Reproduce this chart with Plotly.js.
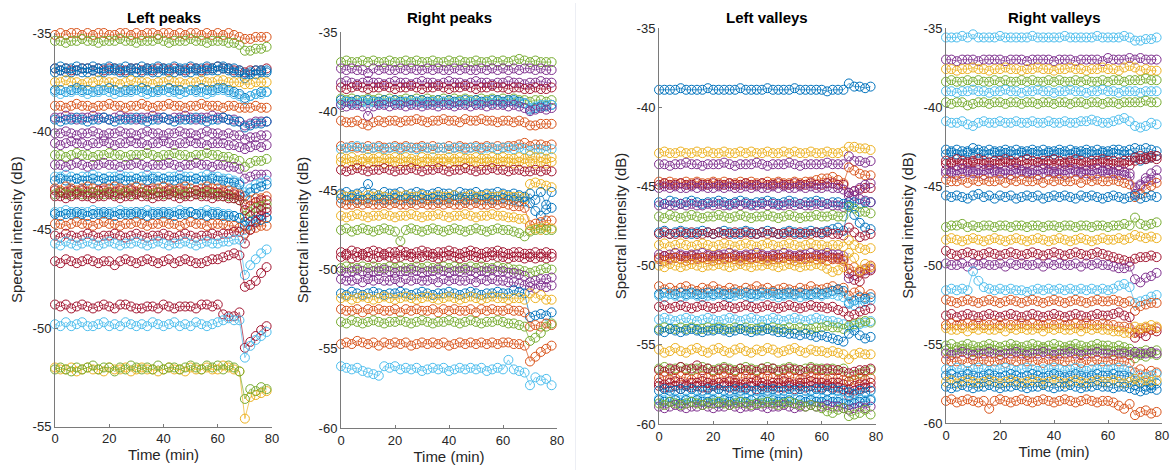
<!DOCTYPE html>
<html><head><meta charset="utf-8">
<script src="https://cdn.plot.ly/plotly-3.0.1.min.js"></script>
<style>html,body{margin:0;padding:0;background:#fff}#chart{width:1172px;height:470px}</style>
</head><body><div id="chart"></div>
<script>
// ---------- data ----------
const time = [0,2,4,6,8,10,12,14,16,18,20,22,24,26,28,30,32,34,36,38,40,42,44,46,48,50,52,54,56,58,60,62,64,66,68,70,72,74,76,78];
const panelTitles = ['Left peaks','Right peaks','Left valleys','Right valleys'];
const xTickVals = [0,20,40,60,80];
const yTickValsPeaksLeft = [-55,-50,-45,-40,-35];
const yTickValsOther = [-60,-55,-50,-45,-40,-35];

// Left peaks
const LP_O1=[-35.1,-35,-35.1,-35,-35,-35.1,-35,-35.1,-35,-35,-35.1,-35.1,-35,-35,-35.1,-35,-35.1,-35,-35,-35.1,-35,-35,-35.1,-35,-35.1,-35,-35,-35.1,-35,-35.1,-35,-35.1,-35,-35.1,-35.2,-35.3,-35.3,-35.2,-35.2,-35.2];
const LP_G1=[-35.4,-35.4,-35.5,-35.4,-35.4,-35.3,-35.4,-35.4,-35.5,-35.4,-35.4,-35.4,-35.3,-35.4,-35.4,-35.5,-35.4,-35.4,-35.4,-35.3,-35.4,-35.5,-35.4,-35.4,-35.4,-35.3,-35.4,-35.4,-35.5,-35.4,-35.4,-35.4,-35.5,-35.5,-35.6,-35.9,-35.9,-35.8,-35.8,-35.7];
const LP_R1=[-36.8,-36.9,-36.8,-36.9,-36.9,-36.8,-36.8,-36.9,-36.8,-36.9,-36.8,-36.8,-36.9,-36.9,-36.8,-36.8,-36.9,-36.8,-36.9,-36.8,-36.8,-36.9,-36.8,-36.9,-36.9,-36.8,-36.8,-36.9,-36.8,-36.8,-36.7,-36.8,-36.8,-36.9,-36.9,-37,-36.9,-36.9,-36.9,-36.8];
const LP_B1=[-37,-36.9,-37,-37,-36.9,-37,-37,-36.9,-37,-37,-36.9,-36.9,-37,-37,-36.9,-37,-37,-36.9,-37,-37,-36.9,-37,-37,-36.9,-37,-37,-36.9,-37,-36.9,-36.9,-36.9,-36.8,-36.9,-37,-37,-37.3,-37.1,-37.1,-37,-37];
const LP_B2=[-36.8,-36.7,-36.8,-36.8,-36.7,-36.8,-36.8,-36.7,-36.8,-36.8,-36.7,-36.8,-36.8,-36.7,-36.8,-36.8,-36.7,-36.8,-36.8,-36.7,-36.8,-36.8,-36.7,-36.8,-36.8,-36.7,-36.8,-36.8,-36.7,-36.8,-36.7,-36.7,-36.8,-36.8,-36.9,-37.1,-37,-36.9,-36.9,-36.9];
const LP_Y1=[-37.5,-37.5,-37.4,-37.5,-37.5,-37.6,-37.5,-37.5,-37.4,-37.5,-37.5,-37.5,-37.6,-37.5,-37.4,-37.5,-37.5,-37.5,-37.6,-37.5,-37.5,-37.4,-37.5,-37.5,-37.6,-37.5,-37.5,-37.4,-37.5,-37.5,-37.4,-37.4,-37.5,-37.5,-37.5,-37.6,-37.6,-37.5,-37.5,-37.5];
const LP_B3=[-37.9,-37.9,-38,-37.9,-37.8,-37.9,-37.9,-38,-37.9,-37.9,-37.8,-37.9,-38,-37.9,-37.9,-37.9,-37.8,-37.9,-38,-37.9,-37.9,-37.8,-37.9,-37.9,-38,-37.9,-37.9,-37.8,-37.9,-37.9,-37.8,-37.8,-37.9,-38,-38.1,-38.3,-38.2,-38.1,-38,-38];
const LP_C1=[-38,-38.1,-38,-38,-37.9,-38,-38.1,-38,-38,-37.9,-38,-38.1,-38,-38,-38,-37.9,-38,-38.1,-38,-38,-37.9,-38,-38,-38.1,-38,-37.9,-38,-38,-38.1,-38,-37.9,-37.9,-38,-38.1,-38.2,-38.4,-38.2,-38.1,-38.1,-38];
const LP_O2=[-38.7,-38.7,-38.8,-38.7,-38.6,-38.7,-38.7,-38.8,-38.7,-38.7,-38.6,-38.7,-38.7,-38.8,-38.7,-38.7,-38.6,-38.7,-38.8,-38.7,-38.7,-38.6,-38.7,-38.7,-38.8,-38.7,-38.7,-38.6,-38.7,-38.7,-38.7,-38.8,-38.7,-38.7,-38.8,-38.8,-38.8,-38.7,-38.8,-38.8];
const LP_P1=[-39.3,-39.3,-39.2,-39.3,-39.4,-39.3,-39.3,-39.2,-39.3,-39.3,-39.4,-39.3,-39.2,-39.3,-39.3,-39.4,-39.3,-39.3,-39.2,-39.3,-39.3,-39.4,-39.3,-39.3,-39.2,-39.3,-39.4,-39.3,-39.3,-39.2,-39.3,-39.3,-39.4,-39.4,-39.5,-39.7,-39.6,-39.5,-39.5,-39.5];
const LP_B4=[-39.4,-39.5,-39.4,-39.4,-39.3,-39.4,-39.5,-39.4,-39.4,-39.3,-39.4,-39.5,-39.4,-39.4,-39.4,-39.3,-39.4,-39.5,-39.4,-39.4,-39.3,-39.4,-39.5,-39.4,-39.4,-39.4,-39.3,-39.4,-39.5,-39.4,-39.4,-39.3,-39.4,-39.5,-39.5,-39.8,-39.7,-39.6,-39.6,-39.5];
const LP_P2=[-40.1,-40.1,-40,-40.1,-40.2,-40.1,-40.1,-40,-40.1,-40.2,-40.1,-40.1,-40,-40.1,-40.1,-40.2,-40.1,-40,-40.1,-40.1,-40.2,-40.1,-40.1,-40,-40.1,-40.1,-40.2,-40.1,-40,-40.1,-40.1,-40.2,-40.1,-40.2,-40.2,-40.4,-40.3,-40.3,-40.2,-40.2];
const LP_P3=[-40.6,-40.7,-40.6,-40.5,-40.6,-40.6,-40.7,-40.6,-40.6,-40.5,-40.6,-40.7,-40.6,-40.6,-40.5,-40.6,-40.6,-40.7,-40.6,-40.6,-40.5,-40.6,-40.7,-40.6,-40.6,-40.5,-40.6,-40.6,-40.7,-40.6,-40.6,-40.6,-40.7,-40.7,-40.8,-40.9,-40.8,-40.7,-40.8,-40.7];
const LP_G2=[-41.2,-41.2,-41.3,-41.2,-41.1,-41.2,-41.2,-41.3,-41.2,-41.2,-41.1,-41.2,-41.2,-41.3,-41.2,-41.2,-41.2,-41.1,-41.2,-41.3,-41.2,-41.2,-41.1,-41.2,-41.2,-41.3,-41.2,-41.2,-41.1,-41.2,-41.2,-41.3,-41.3,-41.4,-41.5,-41.8,-41.6,-41.5,-41.5,-41.4];
const LP_P4=[-41.7,-41.7,-41.8,-41.7,-41.6,-41.7,-41.8,-41.7,-41.7,-41.6,-41.7,-41.7,-41.8,-41.7,-41.7,-41.6,-41.7,-41.8,-41.7,-41.7,-41.7,-41.6,-41.7,-41.8,-41.7,-41.7,-41.6,-41.7,-41.7,-41.8,-41.7,-41.7,-41.8,-41.8,-41.9,-42.4,-42.3,-42.2,-42.2,-42.2];
const LP_C2=[-42.3,-42.3,-42.2,-42.3,-42.4,-42.3,-42.3,-42.2,-42.3,-42.4,-42.3,-42.3,-42.2,-42.3,-42.3,-42.4,-42.3,-42.2,-42.3,-42.3,-42.4,-42.3,-42.3,-42.2,-42.3,-42.3,-42.4,-42.3,-42.2,-42.3,-42.3,-42.4,-42.4,-42.5,-42.6,-43.1,-42.9,-42.7,-42.6,-42.5];
const LP_B5=[-42.5,-42.4,-42.5,-42.5,-42.4,-42.5,-42.5,-42.4,-42.5,-42.4,-42.5,-42.5,-42.4,-42.5,-42.5,-42.4,-42.5,-42.5,-42.4,-42.5,-42.4,-42.5,-42.5,-42.4,-42.5,-42.5,-42.4,-42.5,-42.5,-42.4,-42.5,-42.5,-42.6,-42.6,-42.7,-43.3,-43.1,-42.9,-42.8,-42.7];
const LP_O3=[-42.9,-43,-42.8,-42.9,-43,-42.9,-42.8,-42.9,-43,-42.9,-42.9,-42.8,-42.9,-43,-42.9,-42.8,-42.9,-43,-42.9,-42.9,-42.8,-42.9,-43,-42.9,-42.8,-42.9,-43,-42.9,-42.8,-42.9,-42.9,-43,-43,-43.1,-43.2,-43.7,-43.5,-43.4,-43.4,-43.3];
const LP_R2=[-43,-43.1,-43.1,-43,-43.1,-43,-43.1,-43.1,-43,-43,-43.1,-43.1,-43,-43.1,-43,-43.1,-43.1,-43,-43,-43.1,-43.1,-43,-43.1,-43,-43.1,-43.1,-43,-43.1,-43,-43.1,-43.1,-43.1,-43.2,-43.2,-43.3,-44,-43.8,-43.6,-43.5,-43.5];
const LP_G3=[-43.2,-43.1,-43.2,-43.2,-43.1,-43.2,-43.2,-43.1,-43.2,-43.2,-43.1,-43.2,-43.2,-43.1,-43.2,-43.2,-43.1,-43.2,-43.2,-43.1,-43.2,-43.2,-43.1,-43.2,-43.2,-43.1,-43.2,-43.2,-43.1,-43.2,-43.2,-43.3,-43.3,-43.4,-43.5,-44.3,-44.1,-43.9,-43.8,-43.7];
const LP_R3=[-43.3,-43.3,-43.4,-43.3,-43.2,-43.3,-43.3,-43.4,-43.3,-43.3,-43.2,-43.3,-43.4,-43.3,-43.3,-43.2,-43.3,-43.3,-43.4,-43.3,-43.3,-43.2,-43.3,-43.4,-43.3,-43.3,-43.2,-43.3,-43.3,-43.4,-43.3,-43.3,-43.4,-43.4,-43.5,-44.6,-44.3,-44.1,-44,-43.9];
const LP_C3=[-44.1,-44.1,-44,-44.1,-44.2,-44.1,-44.1,-44,-44.1,-44.2,-44.1,-44.1,-44,-44.1,-44.1,-44.2,-44.1,-44,-44.1,-44.1,-44.2,-44.1,-44.1,-44,-44.1,-44.1,-44.2,-44.1,-44,-44.1,-44.1,-44.2,-44.2,-44.3,-44.4,-45,-44.8,-44.6,-44.5,-44.4];
const LP_B6=[-44.2,-44.3,-44.2,-44.2,-44.1,-44.2,-44.3,-44.2,-44.2,-44.1,-44.2,-44.3,-44.2,-44.2,-44.2,-44.1,-44.2,-44.3,-44.2,-44.2,-44.1,-44.2,-44.3,-44.2,-44.2,-44.1,-44.2,-44.2,-44.3,-44.2,-44.2,-44.3,-44.3,-44.3,-44.4,-44.8,-44.6,-44.5,-44.5,-44.4];
const LP_O4=[-44.7,-44.7,-44.8,-44.7,-44.6,-44.7,-44.7,-44.8,-44.7,-44.6,-44.7,-44.7,-44.8,-44.7,-44.7,-44.6,-44.7,-44.8,-44.7,-44.7,-44.6,-44.7,-44.7,-44.8,-44.7,-44.6,-44.7,-44.7,-44.8,-44.7,-44.7,-44.7,-44.8,-44.8,-44.9,-45.2,-45,-44.9,-44.8,-44.8];
const LP_R4=[-45.3,-45.4,-45.2,-45.3,-45.4,-45.3,-45.2,-45.3,-45.4,-45.3,-45.3,-45.2,-45.3,-45.4,-45.3,-45.2,-45.3,-45.4,-45.3,-45.3,-45.2,-45.3,-45.4,-45.3,-45.2,-45.3,-45.4,-45.3,-45.3,-45.2,-45.3,-45.2,-45.2,-45.1,-45.1,-45.7,-45,-44.6,-44.3,-44.1];
const LP_C4=[-45.7,-45.8,-45.6,-45.7,-45.8,-45.7,-45.6,-45.7,-45.8,-45.7,-45.6,-45.7,-45.8,-45.7,-45.7,-45.6,-45.7,-45.8,-45.7,-45.6,-45.7,-45.8,-45.7,-45.7,-45.6,-45.7,-45.8,-45.7,-45.6,-45.7,-45.7,-45.6,-45.6,-45.5,-45.5,-47.3,-46.8,-46.5,-46.2,-46];
const LP_R5=[-46.6,-46.7,-46.5,-46.6,-46.7,-46.6,-46.5,-46.6,-46.7,-46.6,-46.6,-46.8,-46.6,-46.5,-46.6,-46.7,-46.6,-46.5,-46.6,-46.7,-46.6,-46.5,-46.7,-46.6,-46.5,-46.6,-46.7,-46.7,-46.6,-46.5,-46.5,-46.4,-46.3,-46.2,-46.3,-47.9,-47.8,-47.6,-47.2,-46.9];
const LP_R6=[-48.8,-48.9,-48.8,-49,-48.9,-48.8,-48.9,-49,-48.9,-48.8,-48.9,-49,-48.8,-48.8,-48.9,-49,-49,-48.9,-48.9,-49,-48.8,-48.9,-49,-48.9,-48.9,-48.9,-49,-48.8,-48.8,-48.9,-48.8,-49.3,-49.4,-49.4,-49.2,-51,-50.7,-50.4,-50.1,-49.9];
const LP_C5=[-49.8,-49.9,-49.7,-49.9,-49.8,-49.7,-49.9,-49.9,-49.8,-49.7,-49.9,-49.8,-49.9,-49.7,-49.8,-49.9,-49.8,-49.9,-49.7,-49.8,-49.9,-49.8,-49.7,-49.9,-49.8,-49.9,-49.7,-49.8,-49.9,-49.8,-49.7,-49.6,-49.5,-49.6,-49.6,-51.5,-50.9,-50.6,-50.4,-50.2];
const LP_Y2=[-52,-52.1,-52.1,-52,-52.2,-52.1,-52,-52.1,-52.1,-52.2,-52,-52.1,-52.1,-52,-52.2,-52.1,-52,-52.1,-52.1,-52.2,-52.1,-52,-52.1,-52.1,-52.2,-52,-52.1,-52.1,-52,-52.1,-52.1,-51.9,-52,-52.1,-52.2,-54.6,-53.5,-53.4,-53.3,-53.2];
const LP_G4=[-52.1,-52,-52.1,-52.2,-52,-52.1,-52,-51.9,-52.1,-52,-52,-52.2,-52,-52.1,-51.9,-52,-52.1,-52,-52.1,-51.9,-52.1,-52,-52,-52.1,-52,-51.9,-52,-52.1,-51.9,-52,-51.9,-52.1,-51.9,-52,-52.2,-53.6,-53.1,-53.2,-53,-53.1];

// Right peaks
const RP_G1=[-36.9,-36.8,-36.9,-36.9,-36.8,-36.9,-36.8,-36.9,-36.9,-36.8,-36.9,-36.9,-36.8,-36.9,-36.8,-36.9,-36.9,-36.8,-36.9,-36.9,-36.8,-36.9,-36.8,-36.9,-36.9,-36.8,-36.9,-36.9,-36.8,-36.9,-36.8,-36.9,-36.8,-36.7,-36.8,-36.9,-36.8,-36.9,-36.9,-36.9];
const RP_P1=[-37.3,-37.4,-37.3,-37.4,-37.4,-37.6,-37.3,-37.4,-37.3,-37.4,-37.4,-37.3,-37.4,-37.3,-37.4,-37.4,-37.3,-37.4,-37.3,-37.4,-37.4,-37.3,-37.4,-37.3,-37.4,-37.4,-37.3,-37.4,-37.3,-37.4,-37.3,-37.4,-37.3,-37.4,-37.3,-37.3,-37.4,-37.3,-37.4,-37.4];
const RP_P2=[-38.2,-38.1,-38.2,-38.3,-38.2,-38.1,-38.2,-38.2,-38.3,-38.2,-38.1,-38.2,-38.2,-38.3,-38.2,-38.1,-38.2,-38.2,-38.3,-38.2,-38.1,-38.2,-38.2,-38.3,-38.2,-38.1,-38.2,-38.2,-38.3,-38.2,-38.2,-38.1,-38.2,-38.2,-38.3,-38.2,-38.2,-38.1,-38.2,-38.2];
const RP_R1=[-38.5,-38.6,-38.5,-38.4,-38.5,-38.6,-38.5,-38.5,-38.4,-38.5,-38.6,-38.5,-38.5,-38.4,-38.5,-38.6,-38.5,-38.5,-38.4,-38.5,-38.6,-38.5,-38.5,-38.4,-38.5,-38.6,-38.5,-38.5,-38.4,-38.5,-38.5,-38.6,-38.5,-38.5,-38.6,-38.6,-38.5,-38.6,-38.6,-38.5];
const RP_G2=[-39.2,-39.3,-39.2,-39.3,-39.3,-39.2,-39.3,-39.2,-39.3,-39.2,-39.3,-39.3,-39.2,-39.3,-39.2,-39.3,-39.2,-39.3,-39.3,-39.2,-39.3,-39.2,-39.3,-39.2,-39.3,-39.3,-39.2,-39.3,-39.2,-39.3,-39.2,-39.3,-39.2,-39.3,-39.3,-39.4,-39.3,-39.3,-39.4,-39.3];
const RP_B1=[-39.3,-39.4,-39.4,-39.3,-39.4,-39.3,-39.4,-39.4,-39.3,-39.4,-39.3,-39.4,-39.4,-39.3,-39.4,-39.3,-39.4,-39.4,-39.3,-39.4,-39.3,-39.4,-39.4,-39.3,-39.4,-39.3,-39.4,-39.4,-39.3,-39.3,-39.4,-39.3,-39.3,-39.4,-39.5,-39.9,-39.8,-39.7,-39.7,-39.6];
const RP_C1=[-39.5,-39.4,-39.5,-39.5,-39.4,-39.5,-39.4,-39.5,-39.5,-39.4,-39.5,-39.5,-39.4,-39.5,-39.4,-39.5,-39.5,-39.4,-39.5,-39.4,-39.5,-39.5,-39.4,-39.5,-39.4,-39.5,-39.5,-39.4,-39.5,-39.4,-39.5,-39.4,-39.4,-39.5,-39.5,-39.8,-39.7,-39.6,-39.6,-39.6];
const RP_P3=[-39.6,-39.7,-39.6,-39.6,-39.7,-40.3,-39.7,-39.6,-39.6,-39.7,-39.6,-39.6,-39.7,-39.6,-39.6,-39.7,-39.6,-39.6,-39.7,-39.6,-39.6,-39.7,-39.6,-39.6,-39.7,-39.6,-39.6,-39.7,-39.6,-39.6,-39.6,-39.7,-39.6,-39.7,-39.8,-40,-39.9,-39.8,-39.9,-39.8];
const RP_O1=[-40.6,-40.7,-40.7,-40.6,-40.8,-40.9,-40.7,-40.6,-40.7,-40.6,-40.6,-40.7,-40.6,-40.6,-40.5,-40.6,-40.7,-40.6,-40.6,-40.5,-40.6,-40.6,-40.7,-40.5,-40.6,-40.6,-40.5,-40.6,-40.6,-40.7,-40.6,-40.6,-40.7,-40.6,-40.7,-40.9,-40.9,-40.8,-40.8,-40.8];
const RP_O2=[-42.2,-42.3,-42.2,-42.3,-42.3,-42.2,-42.3,-42.2,-42.3,-42.3,-42.2,-42.3,-42.2,-42.3,-42.3,-42.2,-42.3,-42.2,-42.3,-42.3,-42.2,-42.3,-42.2,-42.3,-42.3,-42.2,-42.3,-42.2,-42.3,-42.2,-42.3,-42.2,-42.2,-42.1,-42,-42.2,-42.1,-42.1,-42.2,-42.1];
const RP_C2=[-42.4,-42.3,-42.3,-42.2,-42.3,-42.4,-42.3,-42.3,-42.4,-42.3,-42.3,-42.4,-42.3,-42.3,-42.4,-42.3,-42.3,-42.4,-42.3,-42.3,-42.4,-42.3,-42.3,-42.4,-42.3,-42.3,-42.4,-42.3,-42.3,-42.4,-42.3,-42.3,-42.4,-42.3,-42.4,-42.5,-42.4,-42.4,-42.5,-42.4];
const RP_Y1=[-42.9,-43,-42.9,-43.1,-43,-42.9,-43,-42.9,-43,-43,-42.9,-43,-42.9,-43,-43.1,-42.9,-43,-42.9,-43,-43,-42.9,-43,-42.9,-43,-43,-42.9,-43,-43,-42.9,-43,-42.9,-43,-43,-42.9,-43,-42.8,-42.9,-42.9,-43,-42.9];
const RP_Y2=[-43.2,-43.3,-43.2,-43.4,-43.2,-43.3,-43.2,-43.2,-43.3,-43.2,-43.2,-43.3,-43.2,-43.2,-43.3,-43.2,-43.2,-43.3,-43.2,-43.2,-43.3,-43.2,-43.2,-43.3,-43.2,-43.2,-43.3,-43.2,-43.2,-43.3,-43.2,-43.2,-43.3,-43.2,-43.3,-43.2,-43.3,-43.2,-43.3,-43.2];
const RP_R2=[-43.7,-43.8,-43.7,-43.6,-43.7,-43.8,-43.7,-43.7,-43.6,-43.7,-43.8,-43.7,-43.7,-43.6,-43.7,-43.8,-43.7,-43.7,-43.6,-43.7,-43.8,-43.7,-43.7,-43.6,-43.7,-43.8,-43.7,-43.7,-43.6,-43.7,-43.7,-43.8,-43.7,-43.7,-43.8,-43.8,-43.7,-43.8,-43.7,-43.8];
const RP_B2=[-45.2,-45.1,-45.3,-45.2,-45.1,-44.6,-45.2,-45.3,-45.1,-45.2,-45.2,-45.1,-45.3,-45.2,-45.1,-45.2,-45.3,-45.2,-45.1,-45.2,-45.2,-45.3,-45.1,-45.2,-45.2,-45.1,-45.3,-45.2,-45.2,-45.1,-45.2,-45.3,-45.2,-45.3,-45.4,-45.8,-46.3,-46.6,-46.2,-46.1];
const RP_Y3=[-45.3,-45.4,-45.4,-45.3,-45.5,-45.3,-45.4,-45.3,-45.4,-45.5,-45.3,-45.4,-45.3,-45.4,-45.4,-45.3,-45.5,-45.4,-45.3,-45.4,-45.4,-45.3,-45.5,-45.4,-45.3,-45.4,-45.4,-45.3,-45.4,-45.4,-45.3,-45.4,-45.4,-45.4,-45.5,-44.6,-44.5,-44.6,-44.7,-44.8];
const RP_B3=[-45.5,-45.6,-45.5,-45.6,-45.6,-45.5,-45.6,-45.5,-45.6,-45.6,-45.5,-45.6,-45.5,-45.6,-45.6,-45.5,-45.6,-45.5,-45.6,-45.6,-45.5,-45.6,-45.5,-45.6,-45.6,-45.5,-45.6,-45.5,-45.6,-45.6,-45.5,-45.6,-45.6,-45.7,-45.7,-45.2,-45.6,-45.1,-45.9,-45.1];
const RP_O3=[-45.8,-45.9,-45.9,-45.8,-45.9,-45.8,-45.9,-45.9,-45.8,-45.9,-45.8,-45.9,-45.9,-45.8,-45.9,-45.8,-45.9,-45.9,-45.8,-45.9,-45.8,-45.9,-45.9,-45.8,-45.9,-45.8,-45.9,-45.9,-45.8,-45.9,-45.8,-45.9,-46,-46,-46.1,-47.2,-47.1,-47,-46.9,-46.9];
const RP_Y4=[-46.6,-46.7,-46.6,-46.5,-46.6,-46.7,-46.6,-46.6,-46.5,-46.6,-46.7,-46.6,-46.6,-46.5,-46.6,-46.7,-46.6,-46.6,-46.5,-46.6,-46.7,-46.6,-46.6,-46.5,-46.6,-46.7,-46.6,-46.6,-46.5,-46.6,-46.6,-46.7,-46.7,-46.8,-46.8,-47.5,-47.4,-47.5,-47.3,-47.4];
const RP_G3=[-47.5,-47.4,-47.6,-47.5,-47.4,-47.5,-47.6,-47.5,-47.4,-47.5,-47.6,-48.2,-47.5,-47.4,-47.5,-47.6,-47.5,-47.4,-47.5,-47.6,-47.5,-47.4,-47.5,-47.6,-47.5,-47.4,-47.5,-47.6,-47.5,-47.4,-47.5,-47.5,-47.6,-47.7,-47.9,-47.6,-47.5,-47.4,-47.5,-47.5];
const RP_R3=[-48.9,-49,-48.8,-48.9,-49,-48.9,-48.8,-48.9,-49,-48.9,-48.9,-48.8,-48.9,-49,-48.9,-48.8,-48.9,-49,-48.9,-48.9,-48.8,-48.9,-49,-48.9,-48.8,-48.9,-49,-48.9,-48.9,-48.8,-48.9,-49,-48.9,-48.9,-49,-49,-48.9,-49,-48.9,-49];
const RP_R4=[-49.2,-49.1,-49.3,-49.2,-49.1,-49.2,-49.3,-49.2,-49.1,-49.2,-49.3,-49.2,-49.1,-49.2,-49.3,-49.2,-49.1,-49.2,-49.3,-49.2,-49.1,-49.2,-49.3,-49.2,-49.1,-49.2,-49.3,-49.2,-49.1,-49.2,-49.2,-49.3,-49.2,-49.2,-49.3,-49.2,-49.3,-49.2,-49.3,-49.2];
const RP_G4=[-49.9,-49.8,-49.9,-49.9,-49.8,-49.9,-49.8,-49.9,-49.9,-49.8,-49.9,-49.8,-49.9,-49.9,-49.8,-49.9,-49.8,-49.9,-49.9,-49.8,-49.9,-49.8,-49.9,-49.9,-49.8,-49.9,-49.8,-49.9,-49.9,-49.8,-49.9,-49.9,-50,-50,-50.1,-50.2,-50.1,-50,-49.9,-50];
const RP_P4=[-50.1,-50.2,-50.1,-50,-50.1,-50.2,-50.1,-50.1,-50,-50.1,-50.2,-50.1,-50.1,-50,-50.1,-50.2,-50.1,-50.1,-50,-50.1,-50.2,-50.1,-50.1,-50,-50.1,-50.2,-50.1,-50.1,-50,-50.1,-50.1,-50.2,-50.2,-50.3,-50.4,-50.8,-50.7,-50.6,-50.6,-50.5];
const RP_P5=[-50.6,-50.7,-50.7,-50.6,-50.8,-50.6,-50.7,-50.6,-50.7,-50.7,-50.6,-50.8,-50.6,-50.7,-50.6,-50.7,-50.7,-50.6,-50.8,-50.6,-50.7,-50.6,-50.7,-50.7,-50.6,-50.8,-50.6,-50.7,-50.6,-50.7,-50.7,-50.8,-50.8,-50.9,-51,-51.1,-51.2,-51,-51.1,-51];
const RP_B4=[-51.5,-51.6,-51.4,-51.5,-51.6,-51.5,-51.4,-51.5,-51.6,-51.5,-51.5,-51.4,-51.5,-51.6,-51.5,-51.4,-51.5,-51.6,-51.5,-51.5,-51.4,-51.5,-51.6,-51.5,-51.4,-51.5,-51.6,-51.5,-51.5,-51.4,-51.5,-51.5,-51.3,-51.4,-51.5,-53,-52.9,-52.8,-52.9,-52.7];
const RP_Y5=[-51.8,-51.7,-51.9,-51.8,-51.7,-51.8,-51.9,-51.8,-51.7,-51.8,-51.9,-51.8,-51.7,-51.8,-51.9,-51.8,-51.7,-51.8,-51.9,-51.8,-51.7,-51.8,-51.9,-51.8,-51.7,-51.8,-51.9,-51.8,-51.7,-51.8,-51.8,-51.9,-51.8,-51.8,-51.9,-51.5,-51.8,-51.6,-51.9,-51.9];
const RP_O4=[-52.5,-52.6,-52.6,-52.5,-52.7,-52.5,-52.6,-52.5,-52.6,-52.6,-52.5,-52.7,-52.5,-52.6,-52.5,-52.6,-52.6,-52.5,-52.7,-52.5,-52.6,-52.5,-52.6,-52.6,-52.5,-52.7,-52.5,-52.6,-52.5,-52.6,-52.6,-52.5,-52.6,-52.6,-52.7,-53.6,-53.5,-53.6,-53.4,-53.5];
const RP_G5=[-53.3,-53.4,-53.2,-53.3,-53.4,-53.3,-53.2,-53.3,-53.4,-53.3,-53.3,-53.2,-53.3,-53.4,-53.3,-53.2,-53.3,-53.4,-53.3,-53.3,-53.2,-53.3,-53.4,-53.3,-53.2,-53.3,-53.4,-53.3,-53.3,-53.2,-53.3,-53.4,-53.4,-53.5,-53.6,-54.5,-54.3,-54,-53.6,-53.4];
const RP_O5=[-54.7,-54.6,-54.7,-54.5,-54.6,-54.7,-54.6,-54.8,-54.6,-54.7,-54.6,-54.7,-54.6,-54.8,-54.7,-54.6,-54.7,-54.6,-54.7,-54.6,-54.8,-54.7,-54.6,-54.7,-54.6,-54.7,-54.6,-54.7,-54.6,-54.7,-54.6,-54.6,-54.7,-54.7,-54.8,-55.8,-55.5,-55.2,-55,-54.8];
const RP_C3=[-56.1,-56.2,-56.3,-56.2,-56.4,-56.5,-56.6,-56.7,-56.1,-56.2,-56.1,-56.3,-56.2,-56.3,-56.2,-56.4,-56.3,-56.2,-56.3,-56.2,-56.4,-56.3,-56.2,-56.3,-56.2,-56.3,-56.2,-56.4,-56.3,-56.2,-56.3,-55.7,-56.3,-56.4,-56.5,-57.3,-56.8,-57,-56.9,-57.3];

// Left valleys
const LV_B1=[-38.9,-38.9,-38.9,-38.9,-38.8,-38.9,-38.9,-38.9,-38.9,-38.8,-38.9,-38.9,-38.9,-38.9,-38.9,-38.8,-38.9,-38.9,-38.9,-38.9,-38.8,-38.9,-38.9,-38.9,-38.9,-38.8,-38.9,-38.9,-38.9,-38.9,-38.9,-39,-38.9,-38.9,-38.9,-38.5,-38.7,-38.7,-38.8,-38.7];
const LV_Y1=[-42.9,-42.8,-42.9,-42.9,-42.8,-42.9,-42.9,-42.8,-42.9,-42.8,-42.9,-42.9,-42.8,-42.9,-42.9,-42.8,-42.9,-42.8,-42.9,-42.9,-42.8,-42.9,-42.9,-42.8,-42.9,-42.8,-42.9,-42.9,-42.8,-42.9,-42.9,-42.8,-42.9,-42.9,-42.8,-42.5,-42.5,-42.6,-42.6,-42.7];
const LV_P1=[-43.6,-43.6,-43.7,-43.6,-43.6,-43.5,-43.6,-43.6,-43.7,-43.6,-43.6,-43.6,-43.5,-43.6,-43.7,-43.6,-43.6,-43.6,-43.5,-43.6,-43.7,-43.6,-43.6,-43.6,-43.5,-43.6,-43.7,-43.6,-43.6,-43.6,-43.6,-43.5,-43.6,-43.6,-43.6,-43.1,-43.4,-43.4,-43.5,-43.4];
const LV_O1=[-44.7,-44.8,-44.7,-44.8,-44.8,-44.7,-44.8,-44.7,-44.8,-44.8,-44.7,-44.8,-44.7,-44.8,-44.8,-44.7,-44.8,-44.7,-44.8,-44.8,-44.7,-44.8,-44.7,-44.8,-44.8,-44.7,-44.8,-44.7,-44.7,-44.6,-44.5,-44.5,-44.4,-44.6,-44.8,-43.8,-44,-44.2,-44.3,-44.3];
const LV_R1=[-44.9,-44.8,-44.9,-44.9,-44.8,-44.9,-44.9,-44.8,-44.9,-44.9,-44.8,-44.9,-44.9,-44.8,-44.9,-44.9,-44.8,-44.9,-44.9,-44.8,-44.9,-44.9,-44.8,-44.9,-44.9,-44.8,-44.9,-44.9,-44.8,-44.9,-44.9,-44.8,-44.8,-44.9,-44.9,-45.4,-45.3,-45.2,-45.1,-45.1];
const LV_P2=[-45.1,-45,-45.1,-45,-45.1,-45.1,-45,-45.1,-45,-45.1,-45.1,-45,-45.1,-45,-45.1,-45.1,-45,-45.1,-45,-45.1,-45.1,-45,-45.1,-45,-45.1,-45.1,-45,-45.1,-45,-45.1,-45.1,-45,-45.1,-45.1,-45.2,-45.6,-45.3,-45.1,-44.9,-44.8];
const LV_B2=[-46,-46.1,-45.9,-46,-46.1,-46,-45.9,-46,-46.1,-46,-46,-45.9,-46,-46.1,-46,-45.9,-46,-46.1,-46,-46,-45.9,-46,-46.1,-46,-45.9,-46,-46.1,-46,-46,-45.9,-46,-46.1,-46,-46,-46.1,-46,-46,-46.1,-46,-46];
const LV_P3=[-46.2,-46.1,-46.2,-46.2,-46.1,-46.2,-46.1,-46.2,-46.2,-46.1,-46.2,-46.1,-46.2,-46.2,-46.1,-46.2,-46.1,-46.2,-46.2,-46.1,-46.2,-46.1,-46.2,-46.2,-46.1,-46.2,-46.1,-46.2,-46.2,-46.1,-46.2,-46.1,-46.2,-46.2,-46.3,-45.4,-45.6,-45.8,-45.9,-46];
const LV_G1=[-46.9,-47,-46.8,-46.9,-47,-46.9,-46.8,-46.9,-47,-46.9,-46.9,-46.8,-46.9,-47,-46.9,-46.8,-46.9,-47,-46.9,-46.9,-46.8,-46.9,-47,-46.9,-46.8,-46.9,-47,-46.9,-46.9,-46.8,-46.9,-46.9,-46.8,-46.9,-46.9,-46.3,-46.4,-46.6,-46.6,-46.7];
const LV_B3=[-47.9,-47.8,-48,-47.9,-47.8,-47.9,-48,-47.9,-47.8,-47.9,-48,-47.9,-47.8,-47.9,-48,-47.9,-47.8,-47.9,-48,-47.9,-47.8,-47.9,-48,-47.9,-47.8,-47.9,-48,-47.9,-47.8,-47.9,-47.9,-47.8,-47.7,-47.6,-47.8,-46.2,-46.8,-47.3,-47.6,-47.7];
const LV_R2=[-48,-47.9,-48,-48,-47.9,-48,-47.9,-48,-48,-47.9,-48,-47.9,-48,-48,-47.9,-48,-47.9,-48,-48,-47.9,-48,-47.9,-48,-48,-47.9,-48,-47.9,-48,-48,-47.9,-48,-47.9,-48,-48,-48.1,-47.6,-47.9,-48.2,-48.1,-48];
const LV_Y2=[-48.7,-48.6,-48.8,-48.7,-48.6,-48.7,-48.8,-48.7,-48.6,-48.7,-48.8,-48.7,-48.6,-48.7,-48.8,-48.7,-48.6,-48.7,-48.8,-48.7,-48.6,-48.7,-48.8,-48.7,-48.6,-48.7,-48.8,-48.7,-48.6,-48.7,-48.7,-48.8,-48.7,-48.7,-48.8,-48.4,-48.7,-48.9,-49,-48.9];
const LV_P4=[-49.3,-49.4,-49.3,-49.2,-49.3,-49.4,-49.3,-49.3,-49.2,-49.3,-49.4,-49.3,-49.3,-49.2,-49.3,-49.4,-49.3,-49.3,-49.2,-49.3,-49.4,-49.3,-49.3,-49.2,-49.3,-49.4,-49.3,-49.3,-49.2,-49.3,-49.3,-49.2,-49.3,-49.3,-49.4,-50.8,-50.6,-50.4,-50.3,-50.2];
const LV_R3=[-49.5,-49.4,-49.5,-49.5,-49.4,-49.5,-49.4,-49.5,-49.5,-49.4,-49.5,-49.4,-49.5,-49.5,-49.4,-49.5,-49.4,-49.5,-49.5,-49.4,-49.5,-49.4,-49.5,-49.5,-49.4,-49.5,-49.4,-49.5,-49.5,-49.4,-49.5,-49.4,-49.5,-49.5,-49.6,-50.5,-50.9,-51,-50.5,-50.3];
const LV_O2=[-49.6,-49.7,-49.6,-49.5,-49.6,-49.7,-49.6,-49.6,-49.5,-49.6,-49.7,-49.6,-49.6,-49.5,-49.6,-49.7,-49.6,-49.6,-49.5,-49.6,-49.7,-49.6,-49.6,-49.5,-49.6,-49.7,-49.6,-49.6,-49.5,-49.6,-49.6,-49.7,-49.6,-49.6,-49.7,-50.2,-50.1,-50.4,-50.2,-50];
const LV_Y3=[-50,-50.1,-49.9,-50,-50.1,-50,-49.9,-50,-50.1,-50,-50,-49.9,-50,-50.1,-50,-49.9,-50,-50.1,-50,-50,-49.9,-50,-50.1,-50,-49.9,-50,-50.1,-50,-50,-49.9,-50,-50.2,-50.4,-50.3,-50.1,-49.2,-49.5,-50.3,-49.9,-50.1];
const LV_O3=[-51.3,-51.5,-51.4,-51.6,-51.4,-51.3,-51.5,-51.6,-51.4,-51.5,-51.3,-51.5,-51.6,-51.4,-51.5,-51.6,-51.4,-51.5,-51.3,-51.5,-51.4,-51.6,-51.5,-51.4,-51.5,-51.6,-51.4,-51.5,-51.3,-51.5,-51.5,-51.4,-51.3,-51.5,-51.4,-51.9,-51.7,-51.6,-52,-51.8];
const LV_B4=[-51.8,-51.7,-51.8,-51.8,-51.7,-51.8,-51.7,-51.8,-51.8,-51.7,-51.8,-51.7,-51.8,-51.8,-51.7,-51.8,-51.7,-51.8,-51.8,-51.7,-51.8,-51.7,-51.8,-51.8,-51.7,-51.8,-51.7,-51.8,-51.8,-51.7,-51.8,-51.7,-51.6,-51.5,-51.6,-52.4,-52.2,-52,-52.1,-52];
const LV_C1=[-51.9,-52,-51.8,-51.9,-52,-51.9,-51.8,-51.9,-52,-51.9,-51.9,-51.8,-51.9,-52,-51.9,-51.8,-51.9,-52,-51.9,-51.9,-51.8,-51.9,-52,-51.9,-51.8,-51.9,-52,-51.9,-51.9,-51.8,-51.9,-51.8,-51.8,-51.9,-52,-52.3,-52.5,-52.4,-52.3,-52.2];
const LV_R4=[-52.6,-52.5,-52.7,-52.6,-52.5,-52.6,-52.7,-52.6,-52.5,-52.6,-52.7,-52.6,-52.5,-52.6,-52.7,-52.6,-52.5,-52.6,-52.7,-52.6,-52.5,-52.6,-52.7,-52.6,-52.5,-52.6,-52.7,-52.6,-52.5,-52.6,-52.6,-52.7,-52.6,-52.8,-52.9,-53.2,-53.1,-52.9,-52.8,-52.7];
const LV_C2=[-53.4,-53.3,-53.4,-53.5,-53.4,-53.3,-53.4,-53.5,-53.4,-53.3,-53.4,-53.5,-53.4,-53.3,-53.4,-53.5,-53.4,-53.3,-53.4,-53.5,-53.4,-53.3,-53.4,-53.5,-53.4,-53.3,-53.4,-53.5,-53.4,-53.3,-53.4,-53.5,-53.5,-53.6,-53.7,-53.9,-53.8,-53.7,-53.6,-53.5];
const LV_G2=[-54,-53.9,-54,-54,-53.9,-54,-53.9,-54,-54,-53.9,-54,-53.9,-54,-54,-53.9,-54,-53.9,-54,-54,-53.9,-54,-53.9,-54,-54,-53.9,-54,-53.9,-54,-54,-53.9,-53.9,-53.8,-53.9,-53.9,-54,-53.8,-53.7,-53.6,-53.5,-53.6];
const LV_B5=[-54.1,-54.2,-54,-54.1,-54.2,-54.1,-54,-54.1,-54.2,-54.1,-54.1,-54,-54.1,-54.2,-54.1,-54,-54.1,-54.2,-54.1,-54.1,-54,-54.1,-54.2,-54.2,-54.3,-54.3,-54.4,-54.3,-54.4,-54.5,-54.4,-54.5,-54.6,-54.7,-54.8,-54.3,-54.1,-54.4,-54.6,-54.5];
const LV_Y4=[-55.3,-55.5,-55.4,-55.2,-55.4,-55.5,-55.3,-55.2,-55.4,-55.5,-55.3,-55.2,-55.4,-55.5,-55.3,-55.2,-55.4,-55.5,-55.3,-55.4,-55.2,-55.3,-55.5,-55.4,-55.3,-55.2,-55.4,-55.5,-55.3,-55.4,-55.4,-55.5,-55.4,-55.5,-55.6,-55.9,-55.6,-55.5,-55.6,-55.6];
const LV_G3=[-56.5,-56.4,-56.6,-56.5,-56.4,-56.5,-56.6,-56.5,-56.4,-56.5,-56.6,-56.5,-56.4,-56.5,-56.6,-56.5,-56.4,-56.5,-56.6,-56.5,-56.4,-56.5,-56.6,-56.5,-56.4,-56.5,-56.6,-56.5,-56.4,-56.5,-56.5,-56.6,-56.5,-56.6,-56.5,-57.3,-56.9,-56.8,-56.7,-56.6];
const LV_R5=[-56.6,-56.7,-56.5,-56.6,-56.4,-56.6,-56.5,-56.3,-56.6,-56.5,-56.7,-56.6,-56.5,-56.6,-56.7,-56.5,-56.6,-56.6,-56.7,-56.5,-56.6,-56.5,-56.7,-56.6,-56.5,-56.6,-56.6,-56.7,-56.5,-56.6,-56.6,-56.5,-56.6,-56.6,-56.7,-56.8,-56.7,-56.6,-56.6,-56.5];
const LV_O4=[-57.1,-57,-57.2,-57.1,-57,-57.1,-57.2,-57.1,-57,-57.1,-57.2,-57.1,-57,-57.1,-57.2,-57.1,-57,-57.1,-57.2,-57.1,-57,-57.1,-57.2,-57.1,-57,-57.1,-57.2,-57.1,-57,-57.1,-57.1,-57.2,-57.1,-57.1,-57.2,-57.3,-57.2,-57.1,-57.2,-57.1];
const LV_R6=[-57.4,-57.5,-57.4,-57.3,-57.4,-57.5,-57.4,-57.4,-57.3,-57.4,-57.5,-57.4,-57.4,-57.3,-57.4,-57.5,-57.4,-57.4,-57.3,-57.4,-57.5,-57.4,-57.4,-57.3,-57.4,-57.5,-57.4,-57.4,-57.3,-57.4,-57.4,-57.5,-57.4,-57.4,-57.5,-57.8,-57.6,-57.5,-57.5,-57.4];
const LV_R7=[-57.6,-57.7,-57.7,-57.6,-57.8,-57.6,-57.7,-57.6,-57.7,-57.7,-57.6,-57.8,-57.6,-57.7,-57.6,-57.7,-57.7,-57.6,-57.8,-57.6,-57.7,-57.6,-57.7,-57.7,-57.6,-57.8,-57.6,-57.7,-57.6,-57.7,-57.7,-57.6,-57.7,-57.7,-57.8,-58.2,-57.9,-57.8,-57.7,-57.7];
const LV_B6=[-57.9,-57.8,-57.9,-57.9,-57.8,-57.9,-57.8,-57.9,-57.9,-57.8,-57.9,-57.8,-57.9,-57.9,-57.8,-57.9,-57.8,-57.9,-57.9,-57.8,-57.9,-57.8,-57.9,-57.9,-57.8,-57.9,-57.8,-57.9,-57.9,-57.8,-57.8,-57.9,-57.8,-57.9,-57.9,-58,-58.1,-57.9,-58,-57.9];
const LV_C3=[-58.4,-58.5,-58.3,-58.4,-58.5,-58.4,-58.3,-58.4,-58.5,-58.4,-58.4,-58.3,-58.4,-58.5,-58.4,-58.3,-58.4,-58.5,-58.4,-58.4,-58.3,-58.4,-58.5,-58.4,-58.3,-58.4,-58.5,-58.4,-58.4,-58.3,-58.4,-58.5,-58.4,-58.4,-58.5,-58.6,-58.5,-58.4,-58.5,-58.4];
const LV_B7=[-58.5,-58.6,-58.6,-58.5,-58.7,-58.5,-58.6,-58.5,-58.6,-58.6,-58.5,-58.7,-58.5,-58.6,-58.5,-58.6,-58.6,-58.5,-58.7,-58.5,-58.6,-58.5,-58.6,-58.6,-58.5,-58.7,-58.5,-58.6,-58.5,-58.6,-58.6,-58.5,-58.6,-58.6,-58.7,-58.8,-58.7,-58.6,-58.6,-58.5];
const LV_P5=[-58.9,-59,-58.9,-58.8,-58.9,-59,-58.9,-58.9,-58.8,-58.9,-59,-58.9,-58.9,-58.8,-58.9,-59,-58.9,-58.9,-58.8,-58.9,-59,-58.9,-58.9,-58.8,-58.9,-59,-58.9,-58.9,-58.8,-58.9,-58.9,-58.8,-58.9,-58.9,-59,-59.1,-59,-58.9,-59,-58.9];
const LV_G4=[-58.7,-58.8,-58.6,-58.7,-58.8,-58.7,-58.6,-58.7,-58.8,-58.7,-58.7,-58.6,-58.7,-58.8,-58.7,-58.6,-58.7,-58.8,-58.7,-58.7,-58.6,-58.7,-58.8,-58.7,-58.6,-58.7,-58.8,-58.9,-58.8,-58.9,-59,-59.2,-59.3,-59.1,-59,-59.5,-59.4,-59.3,-59.1,-59.4];

// Right valleys
const RV_C1=[-35.6,-35.6,-35.6,-35.5,-35.6,-35.4,-35.6,-35.6,-35.6,-35.6,-35.5,-35.6,-35.6,-35.6,-35.6,-35.6,-35.5,-35.6,-35.6,-35.6,-35.6,-35.6,-35.5,-35.6,-35.6,-35.6,-35.6,-35.6,-35.5,-35.6,-35.6,-35.6,-35.6,-35.5,-35.6,-35.8,-35.8,-35.7,-35.7,-35.6];
const RV_P1=[-37,-37,-37.1,-37,-37,-37,-37.1,-37,-37,-37,-37,-37.1,-37,-37,-37,-37.1,-37,-37,-37,-37,-37.1,-37,-37,-37,-37.1,-37,-37,-37,-37,-37.1,-36.9,-37,-37,-37,-36.9,-37,-36.9,-37,-37,-37];
const RV_Y1=[-37.6,-37.6,-37.7,-37.6,-37.6,-37.5,-37.6,-37.6,-37.7,-37.6,-37.6,-37.5,-37.6,-37.6,-37.7,-37.6,-37.6,-37.5,-37.6,-37.6,-37.7,-37.6,-37.6,-37.5,-37.6,-37.6,-37.7,-37.6,-37.6,-37.5,-37.6,-37.6,-37.7,-37.5,-37.4,-37.5,-37.7,-37.6,-37.7,-37.7];
const RV_G1=[-38.4,-38.3,-38.4,-38.4,-38.3,-38.4,-38.3,-38.4,-38.4,-38.3,-38.4,-38.3,-38.4,-38.4,-38.3,-38.4,-38.3,-38.4,-38.4,-38.3,-38.4,-38.3,-38.4,-38.4,-38.3,-38.4,-38.3,-38.4,-38.4,-38.3,-38.4,-38.3,-38.3,-38.4,-38.3,-38.3,-38.3,-38.2,-38.3,-38.3];
const RV_C2=[-39,-39,-39.1,-39,-39,-38.9,-39,-39,-39.1,-39,-39,-38.9,-39,-39,-39.1,-39,-39,-38.9,-39,-39,-39.1,-39,-39,-38.9,-39,-39,-39.1,-39,-39,-38.9,-39,-39,-39.1,-39,-39,-39,-39.1,-39,-39,-39];
const RV_G2=[-39.7,-39.8,-39.7,-39.7,-39.9,-39.8,-39.7,-39.7,-39.8,-39.7,-39.7,-39.8,-39.7,-39.7,-39.8,-39.7,-39.7,-39.8,-39.7,-39.7,-39.8,-39.7,-39.7,-39.8,-39.7,-39.7,-39.8,-39.7,-39.7,-39.8,-39.7,-39.7,-39.8,-39.7,-39.7,-39.7,-39.7,-39.6,-39.7,-39.7];
const RV_C3=[-40.9,-41,-41,-40.9,-41.1,-41.2,-41,-40.9,-41,-41,-40.9,-41,-41,-40.9,-41,-41,-40.9,-41,-41,-40.9,-41,-41,-40.9,-41,-41,-40.9,-40.9,-40.8,-40.9,-41,-41,-40.9,-40.8,-40.7,-40.9,-41.2,-41.3,-41.2,-41,-41.1];
const RV_B1=[-42.7,-42.8,-42.7,-42.8,-42.8,-42.6,-42.7,-42.8,-42.7,-42.8,-42.8,-42.7,-42.8,-42.7,-42.8,-42.8,-42.7,-42.8,-42.7,-42.8,-42.8,-42.7,-42.8,-42.7,-42.8,-42.8,-42.7,-42.8,-42.7,-42.8,-42.8,-42.7,-42.7,-42.8,-42.7,-42.6,-42.7,-42.6,-42.7,-42.8];
const RV_B2=[-43,-42.9,-43,-43,-42.9,-43,-42.9,-43,-43,-42.9,-43,-42.9,-43,-43,-42.9,-43,-42.9,-43,-43,-42.9,-43,-42.9,-43,-43,-42.9,-43,-42.9,-43,-43,-42.9,-43,-42.9,-43,-43,-43,-43.2,-43.4,-43.3,-43.2,-43.1];
const RV_R1=[-43.4,-43.5,-43.3,-43.4,-43.5,-43.4,-43.3,-43.4,-43.5,-43.4,-43.4,-43.3,-43.4,-43.5,-43.4,-43.3,-43.4,-43.5,-43.4,-43.4,-43.3,-43.4,-43.5,-43.4,-43.3,-43.4,-43.5,-43.4,-43.4,-43.3,-43.4,-43.4,-43.5,-43.4,-43.4,-43.2,-43.1,-43.2,-43.1,-43.1];
const RV_R2=[-43.6,-43.6,-43.7,-43.6,-43.6,-43.5,-43.6,-43.6,-43.7,-43.6,-43.6,-43.5,-43.6,-43.6,-43.7,-43.6,-43.6,-43.5,-43.6,-43.6,-43.7,-43.6,-43.6,-43.5,-43.6,-43.6,-43.7,-43.6,-43.6,-43.5,-43.6,-43.6,-43.7,-43.6,-43.7,-43.4,-43.3,-43.3,-43.2,-43.3];
const RV_P2=[-44,-44.1,-44,-43.9,-44,-44.1,-44,-44,-43.9,-44,-44.1,-44,-44,-43.9,-44,-44.1,-44,-44,-43.9,-44,-44.1,-44,-44,-43.9,-44,-44.1,-44,-44,-43.9,-44,-44,-44.1,-44,-44.1,-44.2,-45.5,-45,-44.5,-44.2,-44];
const RV_P3=[-44.2,-44.2,-44.3,-44.2,-44.1,-44.2,-44.2,-44.3,-44.2,-44.1,-44.2,-44.2,-44.3,-44.2,-44.1,-44.2,-44.2,-44.3,-44.2,-44.1,-44.2,-44.2,-44.3,-44.2,-44.1,-44.2,-44.2,-44.3,-44.2,-44.1,-44.2,-44.2,-44.3,-44.3,-44.4,-45.1,-44.9,-44.7,-44.6,-44.5];
const RV_O1=[-44.6,-44.7,-44.7,-44.6,-44.8,-44.6,-44.7,-44.6,-44.7,-44.7,-44.6,-44.8,-44.6,-44.7,-44.6,-44.7,-44.7,-44.6,-44.8,-44.6,-44.7,-44.6,-44.7,-44.7,-44.6,-44.8,-44.6,-44.7,-44.6,-44.7,-44.7,-44.6,-44.7,-44.8,-44.9,-45.7,-45.5,-45.2,-45,-44.8];
const RV_B3=[-45.6,-45.7,-45.6,-45.7,-45.8,-45.6,-45.5,-45.7,-45.6,-45.8,-45.6,-45.7,-45.6,-45.8,-45.7,-45.6,-45.7,-45.6,-45.8,-45.7,-45.6,-45.7,-45.6,-45.7,-45.8,-45.6,-45.7,-45.6,-45.7,-45.8,-45.7,-45.6,-45.7,-45.8,-45.7,-45.6,-45.8,-45.7,-45.6,-45.7];
const RV_G3=[-47.6,-47.5,-47.5,-47.4,-47.6,-47.5,-47.6,-47.5,-47.5,-47.6,-47.5,-47.5,-47.6,-47.5,-47.5,-47.6,-47.5,-47.5,-47.6,-47.5,-47.5,-47.6,-47.5,-47.5,-47.6,-47.5,-47.5,-47.6,-47.5,-47.5,-47.6,-47.5,-47.5,-47.4,-47.5,-47,-47.4,-47.5,-47.4,-47.3];
const RV_Y2=[-48.4,-48.3,-48.4,-48.5,-48.4,-48.3,-48.4,-48.5,-48.4,-48.3,-48.4,-48.5,-48.4,-48.3,-48.4,-48.5,-48.4,-48.3,-48.4,-48.5,-48.4,-48.3,-48.4,-48.5,-48.4,-48.3,-48.4,-48.5,-48.4,-48.3,-48.4,-48.4,-48.3,-48.4,-48.3,-48.1,-48.2,-48.3,-48.2,-48.3];
const RV_R3=[-49.1,-49.3,-49.4,-49.3,-49.2,-49.3,-49.4,-49.3,-49.2,-49.3,-49.4,-49.3,-49.2,-49.3,-49.4,-49.3,-49.2,-49.3,-49.4,-49.3,-49.2,-49.3,-49.4,-49.3,-49.2,-49.3,-49.4,-49.3,-49.2,-49.3,-49.4,-49.5,-49.6,-49.7,-49.8,-49.6,-49.5,-49.5,-49.4,-49.5];
const RV_P4=[-49.9,-50,-50,-49.9,-50.1,-49.9,-50,-49.9,-50,-50,-49.9,-50.1,-49.9,-50,-49.9,-50,-50,-49.9,-50.1,-49.9,-50,-49.9,-50,-50,-49.9,-50.1,-49.9,-50,-49.9,-50,-50,-50.1,-50.2,-50.2,-50.1,-50.9,-51.1,-50.8,-50.7,-50.5];
const RV_C4=[-51.6,-51.5,-51.6,-51.5,-51.6,-50.4,-51,-51.4,-51.5,-51.6,-51.5,-51.6,-51.5,-51.6,-51.6,-51.7,-51.6,-51.5,-51.6,-51.5,-51.6,-51.5,-51.6,-51.5,-51.6,-51.5,-51.6,-51.5,-51.6,-51.5,-51.6,-51.5,-51.3,-51.2,-51.4,-52.4,-52.3,-52.2,-52,-51.9];
const RV_O2=[-52.2,-52.3,-52.4,-52.3,-52.2,-52.3,-52.4,-52.3,-52.2,-52.3,-52.4,-52.3,-52.2,-52.3,-52.4,-52.3,-52.2,-52.3,-52.4,-52.3,-52.2,-52.3,-52.4,-52.3,-52.2,-52.3,-52.4,-52.3,-52.2,-52.3,-52.3,-52.2,-52.3,-52.4,-52.3,-52.9,-52.6,-52.5,-52.4,-52.4];
const RV_R4=[-53.2,-53.1,-53.3,-53.2,-53.1,-53.2,-53.3,-53.2,-53.1,-53.2,-53.3,-53.2,-53.1,-53.2,-53.3,-53.2,-53.1,-53.2,-53.3,-53.2,-53.1,-53.2,-53.3,-53.2,-53.1,-53.2,-53.3,-53.2,-53.1,-53.2,-53.2,-53.1,-53,-53.2,-53.3,-54.6,-54.3,-54.5,-54.1,-54.2];
const RV_O3=[-53.8,-53.7,-53.8,-53.8,-53.7,-53.8,-53.7,-53.8,-53.8,-53.7,-53.8,-53.7,-53.8,-53.8,-53.7,-53.8,-53.7,-53.8,-53.8,-53.7,-53.8,-53.7,-53.8,-53.8,-53.7,-53.8,-53.7,-53.8,-53.8,-53.7,-53.8,-53.8,-53.9,-53.9,-54,-54.3,-54.1,-54,-54.1,-54];
const RV_Y3=[-54,-54.1,-54.1,-54,-54.2,-54,-54.1,-54,-54.1,-54.1,-54,-54.2,-54,-54.1,-54,-54.1,-54.1,-54,-54.2,-54,-54.1,-54,-54.1,-54.1,-54,-54.2,-54,-54.1,-54,-54.1,-54.1,-54.2,-54.2,-54.3,-54.3,-53.9,-54,-53.9,-53.8,-53.9];
const RV_G4=[-55.1,-55,-55.2,-55.1,-55,-55.1,-55.2,-55.1,-55,-55.1,-55.2,-55.1,-55,-55.1,-55.2,-55.1,-55,-55.1,-55.2,-55.1,-55,-55.1,-55.2,-55.1,-55,-55.1,-55.2,-55.1,-55,-55.1,-55.1,-55.2,-55.1,-55.2,-55.3,-55.6,-55.5,-55.4,-55.5,-55.4];
const RV_G5=[-55.4,-55.5,-55.4,-55.3,-55.4,-55.5,-55.4,-55.4,-55.3,-55.4,-55.5,-55.4,-55.4,-55.3,-55.4,-55.5,-55.4,-55.4,-55.3,-55.4,-55.5,-55.4,-55.4,-55.3,-55.4,-55.5,-55.4,-55.4,-55.3,-55.4,-55.4,-55.5,-55.4,-55.5,-55.5,-55.9,-55.7,-55.8,-55.6,-55.7];
const RV_P5=[-55.6,-55.7,-55.6,-55.5,-55.6,-55.7,-55.6,-55.6,-55.5,-55.6,-55.7,-55.6,-55.6,-55.5,-55.6,-55.7,-55.6,-55.6,-55.5,-55.6,-55.7,-55.6,-55.6,-55.5,-55.6,-55.7,-55.6,-55.6,-55.5,-55.6,-55.6,-55.7,-55.6,-55.6,-55.7,-55.5,-55.6,-55.6,-55.5,-55.6];
const RV_O4=[-56,-56.1,-56.1,-56,-56.2,-56,-56.1,-56,-56.1,-56.1,-56,-56.2,-56,-56.1,-56,-56.1,-56.1,-56,-56.2,-56,-56.1,-56,-56.1,-56.1,-56,-56.2,-56,-56.1,-56,-56.1,-56.1,-56,-56.1,-56.1,-56.2,-56.8,-56.6,-56.9,-56.7,-56.8];
const RV_C5=[-56.6,-56.7,-56.5,-56.6,-56.7,-56.6,-56.5,-56.6,-56.7,-56.6,-56.6,-56.5,-56.6,-56.7,-56.6,-56.5,-56.6,-56.7,-56.6,-56.6,-56.5,-56.6,-56.7,-56.6,-56.5,-56.6,-56.7,-56.6,-56.6,-56.5,-56.6,-56.6,-56.5,-56.6,-56.7,-57.2,-57,-57.1,-57,-56.9];
const RV_B4=[-57,-56.9,-57.1,-57,-56.9,-57,-57.1,-57,-56.9,-57,-57.1,-57,-56.9,-57,-57.1,-57,-56.9,-57,-57.1,-57,-56.9,-57,-57.1,-57,-56.9,-57,-57.1,-57,-56.9,-57,-57,-56.9,-57,-57,-57.1,-57.6,-57.5,-57.7,-57.6,-57.5];
const RV_Y4=[-57.4,-57.3,-57.5,-57.4,-57.3,-57.4,-57.5,-57.4,-57.3,-57.4,-57.5,-57.4,-57.3,-57.4,-57.5,-57.4,-57.3,-57.4,-57.5,-57.4,-57.3,-57.4,-57.5,-57.4,-57.3,-57.4,-57.5,-57.4,-57.3,-57.4,-57.4,-57.3,-57.4,-57.5,-57.4,-57.2,-57.4,-57.3,-57.4,-57.3];
const RV_B5=[-57.7,-57.8,-57.7,-57.6,-57.7,-57.8,-57.7,-57.7,-57.6,-57.7,-57.8,-57.7,-57.7,-57.6,-57.7,-57.8,-57.7,-57.7,-57.6,-57.7,-57.8,-57.7,-57.7,-57.6,-57.7,-57.8,-57.7,-57.7,-57.6,-57.7,-57.7,-57.8,-57.7,-57.7,-57.8,-57.9,-58,-57.9,-57.8,-57.9];
const RV_O5=[-58.6,-58.5,-58.7,-58.6,-58.5,-58.6,-58.7,-58.6,-59.1,-58.6,-58.5,-58.6,-58.7,-58.6,-58.5,-58.6,-58.7,-58.6,-58.5,-58.6,-58.7,-58.6,-58.5,-58.6,-58.7,-58.6,-58.5,-58.6,-58.7,-58.6,-58.6,-58.7,-58.9,-59.1,-58.8,-59.5,-59.3,-59.2,-59.4,-59.3];

// series grouping per panel + colour keys
const leftPeaksSeries = [LP_O1,LP_G1,LP_R1,LP_B1,LP_B2,LP_Y1,LP_B3,LP_C1,LP_O2,LP_P1,LP_B4,LP_P2,LP_P3,LP_G2,LP_P4,LP_C2,LP_B5,LP_O3,LP_R2,LP_G3,LP_R3,LP_C3,LP_B6,LP_O4,LP_R4,LP_C4,LP_R5,LP_R6,LP_C5,LP_Y2,LP_G4];
const leftPeaksColors = ['O','G','R','B','B','Y','B','C','O','P','B','P','P','G','P','C','B','O','R','G','R','C','B','O','R','C','R','R','C','Y','G'];
const rightPeaksSeries = [RP_G1,RP_P1,RP_P2,RP_R1,RP_G2,RP_B1,RP_C1,RP_P3,RP_O1,RP_O2,RP_C2,RP_Y1,RP_Y2,RP_R2,RP_B2,RP_Y3,RP_B3,RP_O3,RP_Y4,RP_G3,RP_R3,RP_R4,RP_G4,RP_P4,RP_P5,RP_B4,RP_Y5,RP_O4,RP_G5,RP_O5,RP_C3];
const rightPeaksColors = ['G','P','P','R','G','B','C','P','O','O','C','Y','Y','R','B','Y','B','O','Y','G','R','R','G','P','P','B','Y','O','G','O','C'];
const leftValleysSeries = [LV_B1,LV_Y1,LV_P1,LV_O1,LV_R1,LV_P2,LV_B2,LV_P3,LV_G1,LV_B3,LV_R2,LV_Y2,LV_P4,LV_R3,LV_O2,LV_Y3,LV_O3,LV_B4,LV_C1,LV_R4,LV_C2,LV_G2,LV_B5,LV_Y4,LV_G3,LV_R5,LV_O4,LV_R6,LV_R7,LV_B6,LV_C3,LV_B7,LV_P5,LV_G4];
const leftValleysColors = ['B','Y','P','O','R','P','B','P','G','B','R','Y','P','R','O','Y','O','B','C','R','C','G','B','Y','G','R','O','R','R','B','C','B','P','G'];
const rightValleysSeries = [RV_C1,RV_P1,RV_Y1,RV_G1,RV_C2,RV_G2,RV_C3,RV_B1,RV_B2,RV_R1,RV_R2,RV_P2,RV_P3,RV_O1,RV_B3,RV_G3,RV_Y2,RV_R3,RV_P4,RV_C4,RV_O2,RV_R4,RV_O3,RV_Y3,RV_G4,RV_G5,RV_P5,RV_O4,RV_C5,RV_B4,RV_Y4,RV_B5,RV_O5];
const rightValleysColors = ['C','P','Y','G','C','G','C','B','B','R','R','P','P','O','B','G','Y','R','P','C','O','R','O','Y','G','G','P','O','C','B','Y','B','O'];

// ---------- styling ----------
const palette = {B:'#0072BD',O:'#D95319',Y:'#EDB120',P:'#7E2F8E',G:'#77AC30',C:'#4DBEEE',R:'#A2142F'};
const W = 1172, H = 470;
const FONT = 'Liberation Sans, Arial, Helvetica, sans-serif';
const panels = [
  {series:leftPeaksSeries, colors:leftPeaksColors, yRange:[-55,-35], yTicks:yTickValsPeaksLeft, px:[55,272], py:[33,426.5], title:panelTitles[0]},
  {series:rightPeaksSeries, colors:rightPeaksColors, yRange:[-60,-35], yTicks:yTickValsOther, px:[341,557], py:[32,428], title:panelTitles[1]},
  {series:leftValleysSeries, colors:leftValleysColors, yRange:[-60,-35], yTicks:yTickValsOther, px:[659,876], py:[28,424], title:panelTitles[2]},
  {series:rightValleysSeries, colors:rightValleysColors, yRange:[-60,-35], yTicks:yTickValsOther, px:[946,1162], py:[28,423], title:panelTitles[3]}
];

const traces = [];
const layout = {
  width: W, height: H, margin:{l:0,r:0,t:0,b:0},
  paper_bgcolor:'#ffffff', plot_bgcolor:'rgba(0,0,0,0)',
  showlegend:false, font:{family:FONT, color:'#262626'},
  annotations:[], shapes:[
    {type:'line', xref:'paper', yref:'paper', x0:575.5/W, x1:575.5/W, y0:0, y1:1-3/H, line:{color:'#eceef4', width:1}}
  ]
};
const axisCommon = {
  showline:true, linecolor:'#7a7a7a', linewidth:1, mirror:false,
  ticks:'inside', ticklen:3, tickwidth:1, tickcolor:'#7a7a7a',
  showgrid:false, zeroline:false, fixedrange:true,
  tickfont:{family:FONT, size:13, color:'#262626'}
};

panels.forEach((p, i) => {
  const n = i === 0 ? '' : String(i+1);
  const xa = 'xaxis'+n, ya = 'yaxis'+n;
  layout[xa] = Object.assign({}, axisCommon, {
    domain:[p.px[0]/W, p.px[1]/W], range:[0,80], anchor:'y'+n,
    tickmode:'array', tickvals:xTickVals, ticktext:xTickVals.map(String),
    title:{text:'Time (min)', font:{family:FONT, size:15, color:'#262626'}, standoff:4}
  });
  layout[ya] = Object.assign({}, axisCommon, {
    domain:[1-p.py[1]/H, 1-p.py[0]/H], range:p.yRange, anchor:'x'+n,
    tickmode:'array', tickvals:p.yTicks, ticktext:p.yTicks.map(String),
    title:{text:'Spectral intensity (dB)', font:{family:FONT, size:15, color:'#262626'}, standoff:6}
  });
  layout.annotations.push({
    xref:'paper', yref:'paper', x:(p.px[0]+p.px[1])/2/W, y:1-18/H,
    xanchor:'center', yanchor:'middle', showarrow:false,
    text:'<b>'+p.title+'</b>', font:{family:FONT, size:15, color:'#000000'}
  });
  p.series.forEach((ys, j) => {
    const c = palette[p.colors[j]];
    traces.push({
      type:'scatter', mode:'lines+markers', x:time, y:ys,
      xaxis:'x'+n, yaxis:'y'+n, cliponaxis:false, hoverinfo:'skip',
      line:{color:c, width:0.7},
      marker:{symbol:'circle-open', size:9, color:c, line:{width:1}}
    });
  });
});

Plotly.newPlot('chart', traces, layout, {staticPlot:true, displayModeBar:false});
</script>
</body></html>
